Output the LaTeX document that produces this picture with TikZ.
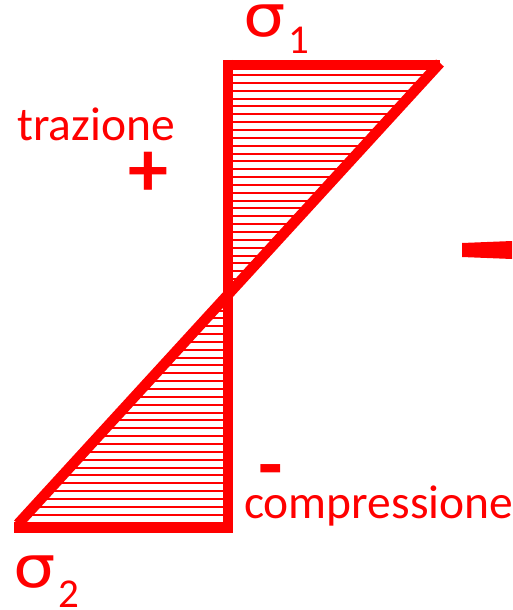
\documentclass[tikz,border=0pt]{standalone}
\usepackage{fontspec}
\setmainfont{Carlito}
\newfontfamily\sigfont{DejaVu Sans}
\definecolor{rred}{RGB}{255,0,0}
\begin{document}
\begin{tikzpicture}[x=1pt,y=-1pt,
  thick line/.style={draw=rred,line width=10pt},
  hatch/.style={draw=rred,line width=2pt},
  lbl/.style={text=rred,inner sep=0pt,anchor=base west,font=\fontsize{47.5}{50}\selectfont},
  sig/.style={text=rred,inner sep=0pt,anchor=base west,font=\fontsize{58}{60}\sigfont},
  sub/.style={text=rred,inner sep=0pt,anchor=base west,font=\fontsize{41}{44}\selectfont}]
\useasboundingbox (0,0) rectangle (512,610);
% hatching
\begin{scope}
  \clip (228,65) -- (440,63) -- (228,294.6) -- cycle;
  \foreach \k in {0,...,56} { \draw[hatch] (220,75+7.85*\k) -- (450,75+7.85*\k); }
\end{scope}
\begin{scope}
  \clip (228,294.6) -- (18,524) -- (228,524) -- cycle;
  \foreach \k in {0,...,56} { \draw[hatch] (10,75+7.85*\k) -- (235,75+7.85*\k); }
\end{scope}
% thick outline
\coordinate (tl) at (223,65);
\coordinate (tr) at (440,65);
\coordinate (vt) at (228,60);
\coordinate (vb) at (228,533);
\coordinate (dt) at (440,63);
\coordinate (db) at (18,524);
\coordinate (bl) at (14,527.5);
\coordinate (br) at (233,527.5);
\draw[thick line] (tl) -- (tr);
\draw[thick line] (vt) -- (vb);
\draw[thick line,line width=10.5pt] (dt) -- (db);
\draw[thick line,line width=11pt] (bl) -- (br);
% right edge fragment
\fill[rred] (462,243) -- (512,241) -- (512,259) -- (462,257) -- cycle;
% labels
\node[sig] (s1) at (243,37) {\scalebox{1.15}[1]{σ}};
\node[sub] (s1i) at (288,53) {1};
\node[sig] (s2) at (13,587) {\scalebox{1.15}[1]{σ}};
\node[sub] (s2i) at (58,607) {2};
\node[lbl] (trz) at (17,140) {trazione};
\node[lbl] (co) at (244,518) {compressione};
\node[text=rred,inner sep=0pt,font=\fontsize{80}{80}\selectfont\bfseries] (plus) at (148,174) {+};
\node[text=rred,inner sep=0pt,font=\fontsize{80}{80}\selectfont\bfseries] (minus) at (271,478) {-};
\end{tikzpicture}
\end{document}
